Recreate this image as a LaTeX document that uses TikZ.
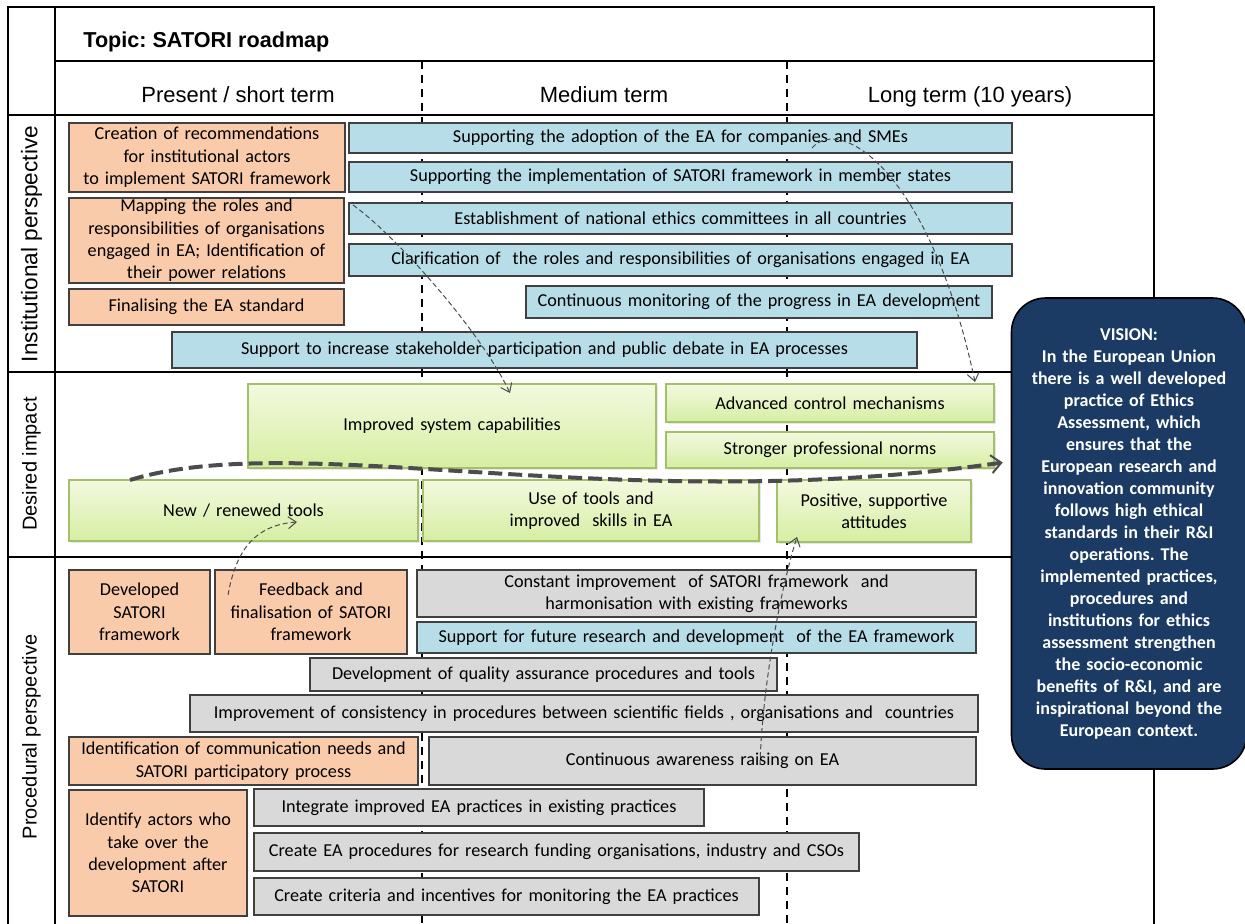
\documentclass[tikz,border=0pt]{standalone}
\usepackage{fontspec}
\setmainfont{Carlito}
\newfontfamily\arial{Liberation Sans}
\usetikzlibrary{arrows.meta,shadows,calc}
\definecolor{orangefill}{HTML}{F9CBAA}
\definecolor{bluefill}{HTML}{B7DDE8}
\definecolor{greyfill}{HTML}{D9D9D9}
\definecolor{greentop}{HTML}{F3F9DF}
\definecolor{greenbot}{HTML}{D6EEA2}
\definecolor{greenedge}{HTML}{A3C06A}
\definecolor{visionfill}{HTML}{1B3B64}
\frenchspacing
\newcommand\bx[7]{%
  \pgfmathsetmacro\bxw{(#5-#3)*0.5}%
  \pgfmathsetmacro\bxh{(#6-#4)*0.5}%
  \pgfmathsetmacro\bxtw{(#5-#3)*0.5-3}%
  \node[#1, minimum width=\bxw pt, minimum height=\bxh pt, text width=\bxtw pt] (#2) at ({(#3+#5)/2},{(#4+#6)/2}) {#7};}
\begin{document}
\begin{tikzpicture}[x=0.5pt,y=-0.5pt,
  box/.style={draw=black!75, line width=0.6pt, inner sep=0pt, outer sep=0pt, align=center, font=\fontsize{9.1}{11.2}\selectfont},
  obox/.style={box, fill=orangefill},
  bbox/.style={box, fill=bluefill},
  gbox/.style={box, fill=greyfill},
  grbox/.style={box, draw=greenedge, top color=greentop, bottom color=greenbot, drop shadow={opacity=0.18, shadow xshift=1pt, shadow yshift=-1pt}},
  frameline/.style={line width=1pt, black},
  period/.style={line width=0.9pt, black, dash pattern=on 4pt off 3pt},
  lbl/.style={font=\arial\fontsize{10}{12}\selectfont, inner sep=0pt},
  hdr/.style={font=\arial\fontsize{11}{13}\selectfont, inner sep=0pt},
  thinarrow/.style={draw=black!70, line width=0.5pt, dash pattern=on 2.5pt off 1.5pt, -{Straight Barb[length=4pt, width=6pt]}},
  flow/.style={draw=black!70, line width=2pt, dash pattern=on 7pt off 3pt, -{Straight Barb[length=5pt, width=9pt, line width=1pt]}},
  vision/.style={draw=black, line width=0.8pt, fill=visionfill, rounded corners=17pt, text=white, align=center, inner sep=0pt, font=\bfseries\fontsize{9}{11}\selectfont}
]
\useasboundingbox (0,0) rectangle (1245,923);
\begin{scope}
\clip (0,0) rectangle (1245,923);
% period separators
\draw[period] (422,61) -- (422,930);
\draw[period] (787,61) -- (787,930);
% frame
\draw[frameline] (8,7) rectangle (1154,935);
\draw[frameline] (55,7) -- (55,935);
\draw[frameline] (55,61) -- (1154,61);
\draw[frameline] (8,115) -- (1154,115);
\draw[frameline] (8,372) -- (1154,372);
\draw[frameline] (8,557) -- (1154,557);

% headers
\node[hdr, anchor=base west, font=\arial\bfseries\fontsize{10.8}{13}\selectfont] (title) at (83,47) {Topic: SATORI roadmap};
\node[hdr, anchor=base] (hshort) at (238,102) {Present / short term};
\node[hdr, anchor=base] (hmed) at (604,102) {Medium term};
\node[hdr, anchor=base] (hlong) at (970,102) {Long term (10 years)};
\node[lbl, rotate=90, font=\arial\fontsize{11.3}{13}\selectfont] (linst) at (31.5,244) {Institutional perspective};
\node[lbl, rotate=90] (ldes) at (31.5,464) {Desired impact};
\node[lbl, rotate=90] (lproc) at (31.5,737) {Procedural perspective};

% institutional
\bx{obox}{rec}{69}{123}{345}{192}{Creation of recommendations\\for institutional actors\\to implement SATORI framework}
\bx{bbox}{adopt}{349}{123}{1012}{153}{Supporting the adoption of the EA for companies and SMEs}
\bx{bbox}{impl}{349}{162}{1012}{192}{Supporting the implementation of SATORI framework in member states}
\bx{obox}{mapping}{69}{198}{344}{283}{Mapping the roles and\\responsibilities of organisations\\engaged in EA; Identification of\\their power relations}
\bx{bbox}{natl}{349}{203}{1012}{234}{Establishment of national ethics committees in all countries}
\bx{bbox}{clar}{349}{244}{1012}{276}{Clarification of\ \ the roles and responsibilities of organisations engaged in EA}
\bx{obox}{final}{69}{289}{344}{325}{Finalising the EA standard}
\bx{bbox}{monit}{526}{286}{992}{318}{Continuous monitoring of the progress in EA development}
\bx{bbox}{stake}{172}{332}{917}{368}{Support to increase stakeholder participation and public debate in EA processes}

% desired impact
\bx{grbox}{improved}{248}{384}{656}{468}{Improved system capabilities}
\bx{grbox}{advanced}{666}{384}{994}{422}{Advanced control mechanisms}
\bx{grbox}{stronger}{666}{432}{994}{468}{Stronger professional norms}
\bx{grbox}{newtools}{69}{480}{418}{541}{New / renewed tools}
\bx{grbox}{usetools}{423}{480}{759}{541}{Use of tools and\\improved\ \ skills in EA}
\bx{grbox}{positive}{777}{480}{971}{542}{Positive, supportive\\attitudes}

% procedural
\bx{obox}{developed}{69}{570}{210}{654}{Developed\\SATORI\\framework}
\bx{obox}{feedback}{215}{570}{407}{654}{Feedback and\\finalisation of SATORI\\framework}
\bx{gbox}{constant}{417}{570}{976}{617}{Constant improvement\ \ of SATORI framework\ \ and\\harmonisation with existing frameworks}
\bx{bbox}{support}{417}{622}{976}{653}{Support for future research and development\ \ of the EA framework}
\bx{gbox}{quality}{310}{658}{777}{691}{Development of quality assurance procedures and tools}
\bx{gbox}{consist}{190}{695}{978}{732}{Improvement of consistency in procedures between scientific fields , organisations and\ \ countries}
\bx{obox}{commun}{69}{737}{418}{785}{Identification of communication needs and\\SATORI participatory process}
\bx{gbox}{aware}{429}{737}{976}{785}{Continuous awareness raising on EA}
\bx{obox}{identify}{69}{790}{247}{916}{Identify actors who\\take over the\\development after\\SATORI}
\bx{gbox}{integ}{254}{789}{704}{826}{Integrate improved EA practices in existing practices}
\bx{gbox}{createEA}{254}{833}{859}{871}{Create EA procedures for research funding organisations, industry and CSOs}
\bx{gbox}{criteria}{254}{878}{759}{915}{Create criteria and incentives for monitoring the EA practices}

% vision
\node[vision, minimum width=117.5pt, minimum height=235.5pt, text width=112pt] (vision) at (1129,533.5) {VISION:\\In the European Union\\there is a well developed\\practice of Ethics\\Assessment, which\\ensures that the\\European research and\\innovation community\\follows high ethical\\standards in their R\&I\\operations. The\\implemented practices,\\procedures and\\institutions for ethics\\assessment strengthen\\the socio-economic\\benefits of R\&I, and are\\inspirational beyond the\\European context.};

% connectors
\coordinate (vtip) at ($(vision.west)+(-8,-71)$);
\draw[flow] ($(newtools.north west)+(61,0)$) .. controls (300,428) and (615,518) .. (vtip);
\draw[thinarrow] ($(mapping.north east)+(9,7)$) .. controls (395,235) and (480,330) .. ($(improved.north west)+(262,9)$);
\draw[thinarrow] ($(adopt.south west)+(463,-5)$) .. controls (840,115) and (930,170) .. ($(advanced.north east)+(-19,-2)$);
\draw[thinarrow] ($(feedback.north west)+(13,25)$) .. controls (236,550) and (255,525) .. ($(newtools.south west)+(228,-19)$);
\draw[thinarrow] ($(aware.south west)+(331,-20)$) .. controls (762,690) and (780,590) .. ($(positive.south west)+(20,-5)$);
\end{scope}
\end{tikzpicture}
\end{document}
